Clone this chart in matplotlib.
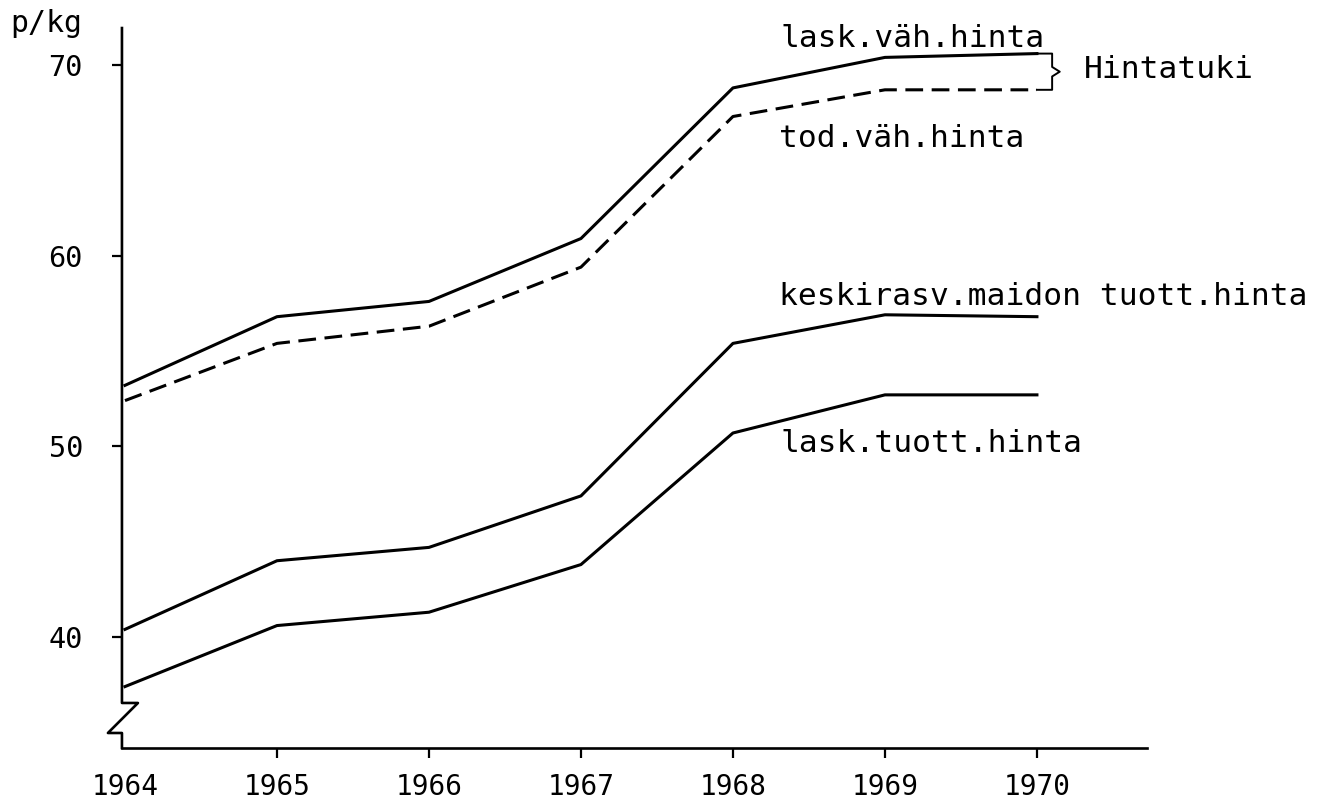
import matplotlib
matplotlib.use("Agg")
import matplotlib.pyplot as plt
from matplotlib.lines import Line2D

# ---- data ----
years = [1964, 1965, 1966, 1967, 1968, 1969, 1970]
lask_vah_hinta = [53.2, 56.8, 57.6, 60.9, 68.8, 70.4, 70.6]
tod_vah_hinta = [52.4, 55.4, 56.3, 59.4, 67.3, 68.7, 68.7]
keskirasv_tuott_hinta = [40.4, 44.0, 44.7, 47.4, 55.4, 56.9, 56.8]
lask_tuott_hinta = [37.4, 40.6, 41.3, 43.8, 50.7, 52.7, 52.7]
y_ticks = [40, 50, 60, 70]
y_unit = "p/kg"
label_lask_vah = "lask.väh.hinta"
label_tod_vah = "tod.väh.hinta"
label_keski = "keskirasv.maidon tuott.hinta"
label_lask_tuott = "lask.tuott.hinta"
label_bracket = "Hintatuki"

FONT = "DejaVu Sans Mono"
plt.rcParams["font.family"] = [FONT, "DejaVu Sans"]

fig = plt.figure(figsize=(13.17, 8.08), dpi=100)
ax = fig.add_axes([0.0926, 0.0743, 0.7783, 0.891])

lw = 2.2
ax.plot(years, lask_vah_hinta, color="black", lw=lw)
ax.plot(years, tod_vah_hinta, color="black", lw=lw, linestyle=(0, (5.8, 2.8)))
ax.plot(years, keskirasv_tuott_hinta, color="black", lw=lw)
ax.plot(years, lask_tuott_hinta, color="black", lw=lw)

ax.set_xlim(1963.98, 1970.724)
ax.set_ylim(34.18, 71.94)

for s in ("top", "right", "left"):
    ax.spines[s].set_visible(False)
ax.spines["bottom"].set_linewidth(1.9)

# left axis with break (zigzag)
ax.add_line(Line2D([0, 0, 0.0156, -0.0137, 0, 0],
                   [1.0, 0.0625, 0.0625, 0.0208, 0.0208, 0.0],
                   transform=ax.transAxes, color="black", lw=1.9,
                   clip_on=False))

ax.set_xticks(years)
ax.set_xticklabels([str(y) for y in years])
ax.set_yticks(y_ticks)
ax.set_yticklabels([str(v) for v in y_ticks])
ax.tick_params(axis="y", direction="out", length=7.2, width=1.6,
               pad=21, labelsize=20.5)
ax.tick_params(axis="x", direction="out", length=7.2, width=1.6,
               pad=11, labelsize=20)
ax.xaxis.get_major_ticks()[0].tick1line.set_visible(False)

txt = dict(fontsize=22.5, family=FONT, color="black", ha="left")
ax.text(1968.31, 70.94, label_lask_vah, va="baseline", **txt)
ax.text(1968.30, 65.7, label_tod_vah, va="baseline", **txt)
ax.text(1968.30, 57.41, label_keski, va="baseline", clip_on=False, **txt)
ax.text(1968.31, 49.71, label_lask_tuott, va="baseline", **txt)
ax.text(1970.31, 69.74, label_bracket, va="center", clip_on=False, **txt)

# bracket joining the two top series at 1970
top = lask_vah_hinta[-1]
bot = tod_vah_hinta[-1]
mid = (top + bot) / 2
x0 = years[-1]
xb = years[-1] + 0.10
ax.add_line(Line2D([x0, xb, xb, xb + 0.05, xb, xb, x0],
                   [top, top, mid + 0.25, mid, mid - 0.25, bot, bot],
                   color="black", lw=1.4, clip_on=False))

fig.text(0.0076, 0.9604, y_unit, fontsize=21.5, family=FONT,
         ha="left", va="baseline")

fig.savefig("out.png", dpi=100, facecolor="white")
